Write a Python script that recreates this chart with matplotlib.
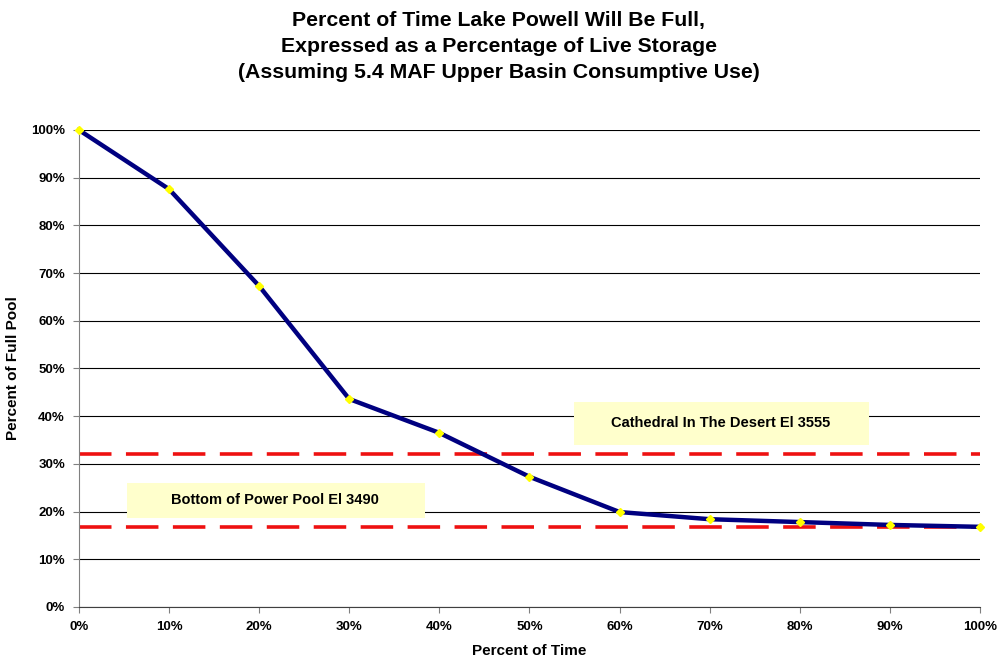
import matplotlib
matplotlib.use("Agg")
import matplotlib.pyplot as plt
from matplotlib.ticker import FuncFormatter, MultipleLocator
from matplotlib.patches import Rectangle

time_pct = [0, 10, 20, 30, 40, 50, 60, 70, 80, 90, 100]
full_pool_pct = [100, 87.6, 67.3, 43.6, 36.5, 27.3, 19.9, 18.4, 17.8, 17.2, 16.8]
cathedral_level = 32.1
power_pool_level = 16.8
cathedral_label = "Cathedral In The Desert El 3555"
power_label = "Bottom of Power Pool El 3490"

plt.rcParams['font.family'] = ['Liberation Sans', 'DejaVu Sans']
fig = plt.figure(figsize=(9.98, 6.63), dpi=100)
ax = fig.add_axes([0.079, 0.0845, 0.903, 0.7195])

ax.set_xlim(0, 100)
ax.set_ylim(0, 100)
ax.yaxis.set_major_locator(MultipleLocator(10))
ax.xaxis.set_major_locator(MultipleLocator(10))
fmt = FuncFormatter(lambda v, p: f"{int(round(v))}%")
ax.xaxis.set_major_formatter(fmt)
ax.yaxis.set_major_formatter(fmt)
ax.grid(axis='y', color='black', linewidth=0.8)
ax.set_axisbelow(True)
for s in ['top', 'right']:
    ax.spines[s].set_visible(False)
ax.spines['left'].set_color('#808080')
ax.spines['bottom'].set_color('#404040')
ax.tick_params(labelsize=9.5, length=4, color='#808080', pad=6)
for lbl in ax.get_xticklabels() + ax.get_yticklabels():
    lbl.set_fontweight('bold')

ax.axhline(cathedral_level, color='#ee1111', linewidth=2.6, dashes=(9, 4), zorder=2)
ax.axhline(power_pool_level, color='#ee1111', linewidth=2.6, dashes=(9, 4), zorder=2)

ax.plot(time_pct, full_pool_pct, color='#000080', linewidth=3.2, zorder=3,
        marker='D', markersize=4, markerfacecolor='#ffff00', markeredgecolor='#ffff00',
        clip_on=False)

ax.add_patch(Rectangle((54.9, 34.0), 32.8, 9.0, facecolor='#ffffcc', edgecolor='none', zorder=4))
ax.add_patch(Rectangle((5.3, 18.7), 33.1, 7.3, facecolor='#ffffcc', edgecolor='none', zorder=4))
ax.text(71.2, 38.6, cathedral_label, ha='center', va='center', fontsize=10.5, fontweight='bold', zorder=5)
ax.text(21.8, 22.4, power_label, ha='center', va='center', fontsize=10.5, fontweight='bold', zorder=5)

ax.set_xlabel("Percent of Time", fontsize=11, fontweight='bold', labelpad=8)
ax.set_ylabel("Percent of Full Pool", fontsize=11, fontweight='bold', labelpad=8)

fig.text(0.5, 0.983, "Percent of Time Lake Powell Will Be Full,\nExpressed as a Percentage of Live Storage\n(Assuming 5.4 MAF Upper Basin Consumptive Use)",
         ha='center', va='top', fontsize=15.3, fontweight='bold', linespacing=1.45)

fig.savefig("out.png", dpi=100)
